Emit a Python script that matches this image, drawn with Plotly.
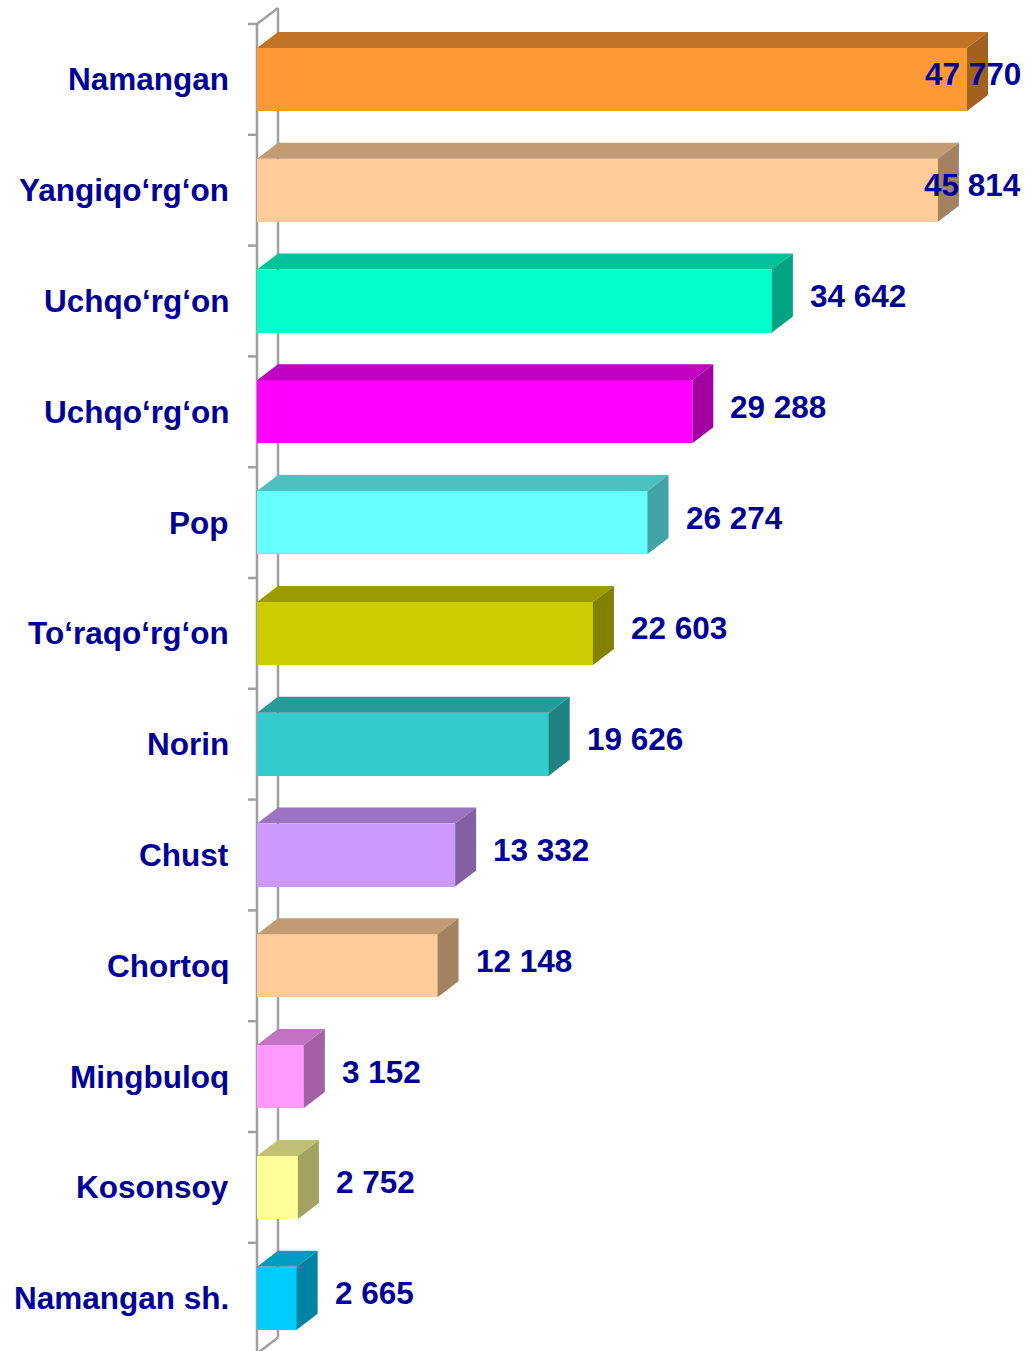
import plotly.graph_objects as go

# ---- data ----
categories = ["Namangan", "Yangiqo‘rg‘on", "Uchqo‘rg‘on", "Uchqo‘rg‘on", "Pop",
              "To‘raqo‘rg‘on", "Norin", "Chust", "Chortoq", "Mingbuloq",
              "Kosonsoy", "Namangan sh."]
values = [47770, 45814, 34642, 29288, 26274, 22603, 19626, 13332, 12148, 3152, 2752, 2665]
colors = ["#FF9933", "#FFCC99", "#00FFCC", "#FF00FF", "#66FFFF", "#CCCC00",
          "#33CCCC", "#CC99FF", "#FFCC99", "#FF99FF", "#FFFF99", "#00CCFF"]

# ---- geometry (pixel based) ----
W, H = 1033, 1351
ZERO_PX = 257          # pixel x of value 0
PX_PER_UNIT = 710 / 47770
BAND_TOP_PX = 24       # pixel y of first band boundary
BAND_PX = 110.8        # pixel height of each category band
FACE_PX = 63           # front face height
DEPTH_X_PX, DEPTH_Y_PX = 21, 16
FONT = 31.5
TXT = "#000099"
AXIS = "#A0A0A0"

def ux(px):  # pixel distance -> x data units
    return px / PX_PER_UNIT

def uy(px):  # pixel distance -> y data units
    return px / BAND_PX

xr = [-ux(ZERO_PX), ux(W - ZERO_PX)]
yr = [uy(H - BAND_TOP_PX), -uy(BAND_TOP_PX)]   # reversed
dx, dy = ux(DEPTH_X_PX), uy(DEPTH_Y_PX)
bw = uy(FACE_PX)
n = len(categories)

def shade(hexc, f):
    h = hexc.lstrip("#")
    r, g, b = (int(h[i:i + 2], 16) for i in (0, 2, 4))
    return "rgb(%d,%d,%d)" % (r * f, g * f, b * f)

fig = go.Figure()
centers = [i + 0.5 for i in range(n)]

fig.add_trace(go.Bar(x=values, y=centers, orientation="h", width=bw,
                     marker=dict(color=colors, line=dict(width=0)),
                     hoverinfo="skip", showlegend=False))

for v, c, col in zip(values, centers, colors):
    yt, yb = c - bw / 2, c + bw / 2
    fig.add_trace(go.Scatter(x=[0, v, v + dx, dx, 0], y=[yt, yt, yt - dy, yt - dy, yt],
                             fill="toself", fillcolor=shade(col, 0.76), mode="lines",
                             line=dict(width=0), hoverinfo="skip", showlegend=False))
    fig.add_trace(go.Scatter(x=[v, v + dx, v + dx, v, v], y=[yt, yt - dy, yb - dy, yb, yt],
                             fill="toself", fillcolor=shade(col, 0.64), mode="lines",
                             line=dict(width=0), hoverinfo="skip", showlegend=False))

# axis walls
shapes = []
L = dict(color=AXIS, width=2.5)
shapes.append(dict(type="line", x0=0, x1=0, y0=0, y1=n, line=L, layer="below"))
shapes.append(dict(type="line", x0=dx, x1=dx, y0=-dy, y1=n - dy, line=L, layer="below"))
shapes.append(dict(type="line", x0=0, x1=dx, y0=0, y1=-dy, line=L, layer="below"))
shapes.append(dict(type="line", x0=0, x1=dx, y0=n, y1=n - dy, line=L, layer="below"))
for k in range(n + 1):
    shapes.append(dict(type="line", x0=-ux(9), x1=0, y0=k, y1=k, line=L, layer="below"))

annotations = []
for cat, c in zip(categories, centers):
    annotations.append(dict(x=-ux(26), y=c, text="<b>%s</b>" % cat, xanchor="right",
                            yanchor="middle", showarrow=False,
                            font=dict(size=FONT, color=TXT, family="Liberation Sans, Arial")))

for v, c in zip(values, centers):
    txt = f"{v:,}".replace(",", " ")
    est_w = sum(0.278 if ch == " " else 0.556 for ch in txt) * FONT
    left_px = ZERO_PX + v * PX_PER_UNIT + DEPTH_X_PX + 15
    if left_px + est_w > W - 8:
        x, anchor = ux(W - 10 - ZERO_PX), "right"
    else:
        x, anchor = v + dx + ux(15), "left"
    annotations.append(dict(x=x, y=c - uy(5), text="<b>%s</b>" % txt, xanchor=anchor,
                            yanchor="middle", showarrow=False,
                            font=dict(size=FONT, color=TXT, family="Liberation Sans, Arial")))

fig.update_layout(width=W, height=H, margin=dict(l=0, r=0, t=0, b=0),
                  paper_bgcolor="white", plot_bgcolor="white",
                  xaxis=dict(range=xr, visible=False, fixedrange=True),
                  yaxis=dict(range=yr, visible=False, fixedrange=True),
                  shapes=shapes, annotations=annotations, bargap=0)

fig.write_html("out.html", config={"displayModeBar": False},
               post_script="document.body.style.margin='0';")
